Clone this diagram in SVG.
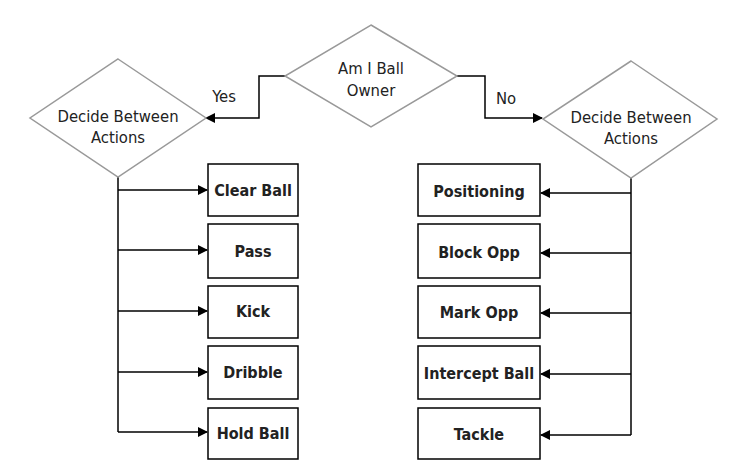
<svg xmlns="http://www.w3.org/2000/svg" width="750" height="475" viewBox="0 0 750 475">
<defs>
<marker id="ah" markerWidth="10" markerHeight="10" refX="9" refY="5" orient="auto" markerUnits="userSpaceOnUse"><path d="M0,0 L10,5 L0,10 z" fill="#000"/></marker>
<style>
.d{fill:#fff;stroke:#999;stroke-width:1.5}
.b{fill:#fff;stroke:#000;stroke-width:1.5}
.t{font-family:"DejaVu Sans Condensed","DejaVu Sans",sans-serif;font-size:16.5px;fill:#222;text-anchor:middle}
.bt{font-family:"DejaVu Sans Condensed","DejaVu Sans",sans-serif;font-size:16px;font-weight:bold;fill:#222;text-anchor:middle}
.c{fill:none;stroke:#000;stroke-width:1.5}
</style>
</defs>
<rect width="750" height="475" fill="#fff"/>
<g id="connectors">
<polyline class="c" points="285,76 259,76 259,118 206,118" marker-end="url(#ah)"/>
<polyline class="c" points="457,76 485,76 485,118 542,118" marker-end="url(#ah)"/>
<polyline class="c" points="118,177 118,432"/>
<line class="c" x1="118" y1="190" x2="207" y2="190" marker-end="url(#ah)"/>
<line class="c" x1="118" y1="250" x2="207" y2="250" marker-end="url(#ah)"/>
<line class="c" x1="118" y1="311" x2="207" y2="311" marker-end="url(#ah)"/>
<line class="c" x1="118" y1="372" x2="207" y2="372" marker-end="url(#ah)"/>
<line class="c" x1="118" y1="432" x2="207" y2="432" marker-end="url(#ah)"/>
<polyline class="c" points="631,178 631,435"/>
<line class="c" x1="631" y1="193" x2="541" y2="193" marker-end="url(#ah)"/>
<line class="c" x1="631" y1="253" x2="541" y2="253" marker-end="url(#ah)"/>
<line class="c" x1="631" y1="313" x2="541" y2="313" marker-end="url(#ah)"/>
<line class="c" x1="631" y1="374" x2="541" y2="374" marker-end="url(#ah)"/>
<line class="c" x1="631" y1="435" x2="541" y2="435" marker-end="url(#ah)"/>
<text class="t" x="224" y="102">Yes</text>
<text class="t" x="506" y="104">No</text>
</g>
<g id="owner"><polygon class="d" points="371,25 457,76 371,127 285,76"/><text class="t" x="371" y="74">Am I Ball</text><text class="t" x="371" y="96">Owner</text></g>
<g id="decideL"><polygon class="d" points="118,59 206,118 118,177 30,118"/><text class="t" x="118" y="122">Decide Between</text><text class="t" x="118" y="143">Actions</text></g>
<g id="decideR"><polygon class="d" points="631,61 717,119 631,178 543,119"/><text class="t" x="631" y="123">Decide Between</text><text class="t" x="631" y="144">Actions</text></g>
<g id="clear"><rect class="b" x="208" y="164" width="90" height="52"/><text class="bt" x="253" y="196">Clear Ball</text></g>
<g id="pass"><rect class="b" x="208" y="224" width="90" height="54"/><text class="bt" x="253" y="257">Pass</text></g>
<g id="kick"><rect class="b" x="208" y="286" width="90" height="52"/><text class="bt" x="253" y="317">Kick</text></g>
<g id="dribble"><rect class="b" x="208" y="346" width="90" height="53"/><text class="bt" x="253" y="378">Dribble</text></g>
<g id="hold"><rect class="b" x="208" y="408" width="90" height="51"/><text class="bt" x="253" y="439">Hold Ball</text></g>
<g id="positioning"><rect class="b" x="418" y="164" width="122" height="52"/><text class="bt" x="479" y="197">Positioning</text></g>
<g id="block"><rect class="b" x="418" y="224" width="122" height="54"/><text class="bt" x="479" y="258">Block Opp</text></g>
<g id="mark"><rect class="b" x="418" y="286" width="122" height="52"/><text class="bt" x="479" y="318">Mark Opp</text></g>
<g id="intercept"><rect class="b" x="418" y="346" width="122" height="53"/><text class="bt" x="479" y="379">Intercept Ball</text></g>
<g id="tackle"><rect class="b" x="418" y="408" width="122" height="51"/><text class="bt" x="479" y="440">Tackle</text></g>
</svg>
